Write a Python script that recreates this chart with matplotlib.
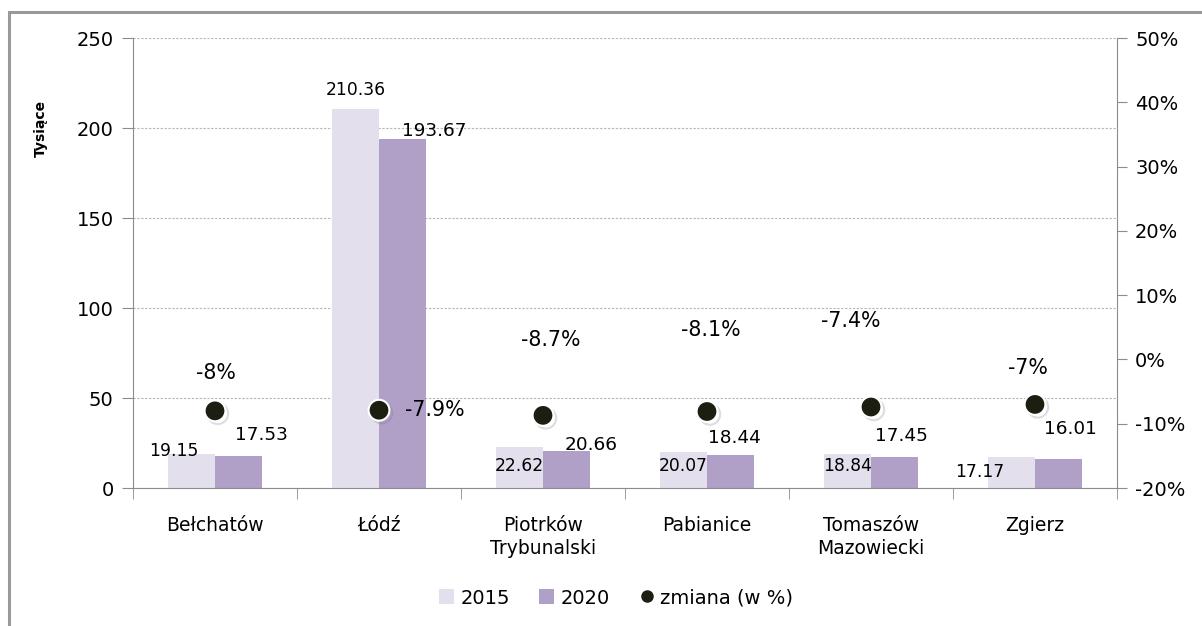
import matplotlib
matplotlib.use('Agg')
import matplotlib.pyplot as plt
import matplotlib.patheffects as pe
from matplotlib.patches import Rectangle, Patch
from matplotlib.lines import Line2D
from matplotlib.ticker import FuncFormatter
import numpy as np

plt.rcParams['font.family'] = ['DejaVu Sans']

cities = ['Bełchatów', 'Łódź', 'Piotrków\nTrybunalski', 'Pabianice', 'Tomaszów\nMazowiecki', 'Zgierz']
v2015 = [19.15, 210.36, 22.62, 20.07, 18.84, 17.17]
v2020 = [17.53, 193.67, 20.66, 18.44, 17.45, 16.01]
change = [-8.0, -7.9, -8.7, -8.1, -7.4, -7.0]
change_labels = ['-8%', '-7.9%', '-8.7%', '-8.1%', '-7.4%', '-7%']

# label offsets in pixels (dx, dy) from bar top / dot centre to label centre
off15 = [(-18, 3), (0, 19), (0, -19), (0, -14), (0, -12), (-32, -15)]
off20 = [(23, 21), (32, 8), (25, 6), (4, 17), (7, 21), (12, 30)]
offpct = [(1, 38), (56, 0), (8, 75), (4, 81), (-20, 86), (-7, 36)]

c15 = '#e3dfec'
c20 = '#b09fc7'
cdot = '#1b1e10'
grey = '#8c8c8c'

fig = plt.figure(figsize=(12.02, 6.26), dpi=100)
ax = fig.add_axes([133/1202, 1-488/626, (1117-133)/1202, (488-38)/626])

# outer frame
fig.patches.append(Rectangle((9/1202, -0.1), 1.2, 1-12/626+0.1, transform=fig.transFigure,
                             fill=False, edgecolor='#9a9a9a', linewidth=2.2))

x = np.arange(len(cities))
w = 0.285
ax.bar(x - w/2, v2015, w, color=c15, zorder=2)
ax.bar(x + w/2, v2020, w, color=c20, zorder=2)

ax.set_xlim(-0.5, 5.5)
ax.set_ylim(0, 250)
ax.set_yticks([0, 50, 100, 150, 200, 250])
ax.grid(axis='y', linestyle=(0, (2, 1.5)), color='#b5b5b5', linewidth=0.8)
ax.set_axisbelow(True)
ax.set_xticks(x)
ax.set_xticklabels(cities, fontsize=13.5, linespacing=1.25)
ax.set_xticks(np.arange(-0.5, 6, 1), minor=True)
ax.tick_params(axis='x', which='major', length=0, pad=20)
ax.tick_params(axis='x', which='minor', length=8, color=grey)
ax.tick_params(axis='y', labelsize=14, length=8, color=grey, pad=6)
for s in ['top', 'right']:
    ax.spines[s].set_visible(False)
for s in ['left', 'bottom']:
    ax.spines[s].set_color(grey)
ax.set_ylabel('Tysiące', fontsize=10, fontweight='bold')
ax.yaxis.set_label_coords(-0.087, 0.8)

for i in range(len(cities)):
    ax.annotate(f'{v2015[i]:.2f}', (x[i] - w/2, v2015[i]), xytext=off15[i],
                textcoords='offset pixels', ha='center', va='center', fontsize=12.3, zorder=5)
    ax.annotate(f'{v2020[i]:.2f}', (x[i] + w/2, v2020[i]), xytext=off20[i],
                textcoords='offset pixels', ha='center', va='center', fontsize=13.3, zorder=5)

ax2 = ax.twinx()
ax2.set_ylim(-20, 50)
ax2.set_yticks(np.arange(-20, 51, 10))
ax2.yaxis.set_major_formatter(FuncFormatter(lambda v, p: f'{v:.0f}%'))
ax2.tick_params(axis='y', labelsize=14, length=7, color=grey, pad=6)
for s in ['top', 'left', 'bottom']:
    ax2.spines[s].set_visible(False)
ax2.spines['right'].set_color(grey)

ax2.plot(x, change, linestyle='none', marker='o', markersize=15, markerfacecolor=cdot,
         markeredgecolor='white', markeredgewidth=1.5, zorder=4,
         path_effects=[pe.SimpleLineShadow(offset=(2, -2), shadow_color='#777777', alpha=0.25),
                       pe.Normal()])
for i in range(len(cities)):
    ax2.annotate(change_labels[i], (x[i], change[i]), xytext=offpct[i],
                 textcoords='offset pixels', ha='center', va='center', fontsize=14.8)

handles = [Patch(facecolor=c15, edgecolor='none'),
           Patch(facecolor=c20, edgecolor='none'),
           Line2D([], [], linestyle='none', marker='o', markersize=8, color=cdot)]
fig.legend(handles, ['2015', '2020', 'zmiana (w %)'], loc='center',
           bbox_to_anchor=(616/1202, 1-598/626), ncol=3, frameon=False, fontsize=14,
           handlelength=0.8, handleheight=0.8, handletextpad=0.3, columnspacing=1.5)

fig.savefig('out.png', dpi=100)
